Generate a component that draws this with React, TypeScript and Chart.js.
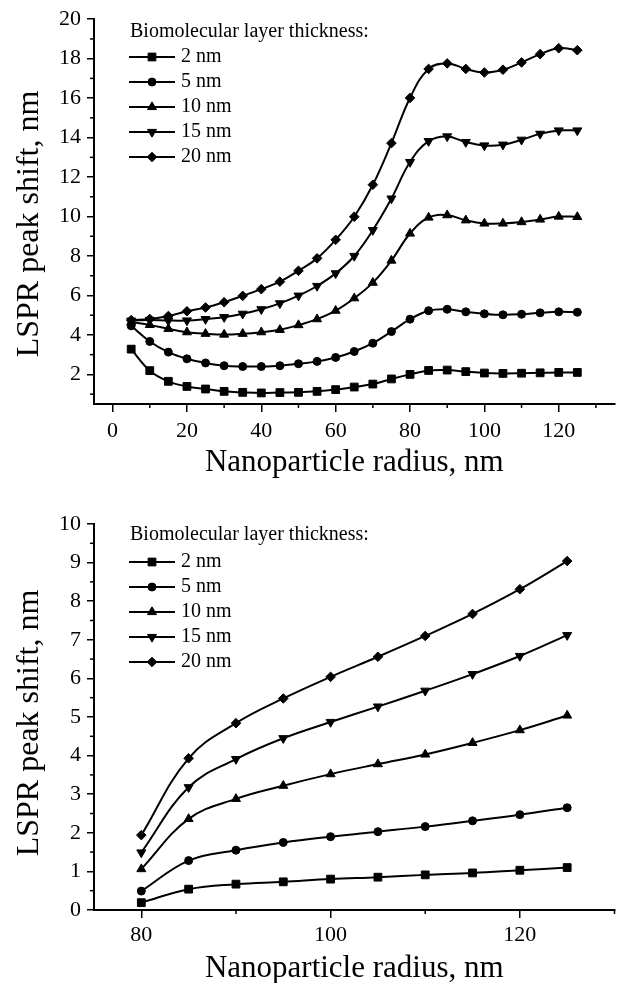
import React, { useEffect, useRef } from 'react';
import { Chart, registerables } from 'chart.js';
import { drawPoint } from 'chart.js/helpers';

Chart.register(...registerables);

const SERIES_LABELS = ['2 nm', '5 nm', '10 nm', '15 nm', '20 nm'];
const LEGEND_TITLE = 'Biomolecular layer thickness:';
const X_TITLE = 'Nanoparticle radius, nm';
const Y_TITLE = 'LSPR peak shift, nm';

// ---------- top panel ----------
const TOP_RADIUS = [5, 10, 15, 20, 25, 30, 35, 40, 45, 50, 55, 60, 65, 70, 75, 80, 85, 90, 95, 100, 105, 110, 115, 120, 125];
const TOP_2NM = [3.28, 2.19, 1.65, 1.39, 1.26, 1.14, 1.09, 1.06, 1.08, 1.09, 1.14, 1.23, 1.36, 1.51, 1.77, 2.0, 2.2, 2.22, 2.14, 2.07, 2.05, 2.06, 2.08, 2.1, 2.1];
const TOP_5NM = [4.46, 3.67, 3.13, 2.79, 2.58, 2.44, 2.4, 2.4, 2.44, 2.54, 2.66, 2.86, 3.16, 3.58, 4.17, 4.8, 5.23, 5.3, 5.17, 5.07, 5.02, 5.05, 5.12, 5.17, 5.15];
const TOP_10NM = [4.65, 4.51, 4.31, 4.14, 4.06, 4.02, 4.06, 4.14, 4.26, 4.5, 4.8, 5.23, 5.86, 6.65, 7.77, 9.14, 9.95, 10.07, 9.81, 9.65, 9.65, 9.72, 9.85, 10.0, 9.98];
const TOP_15NM = [4.72, 4.76, 4.73, 4.73, 4.8, 4.9, 5.07, 5.3, 5.6, 5.99, 6.48, 7.12, 8.0, 9.31, 10.91, 12.76, 13.82, 14.06, 13.77, 13.6, 13.64, 13.89, 14.19, 14.36, 14.36];
const TOP_20NM = [4.75, 4.81, 4.96, 5.2, 5.39, 5.66, 5.98, 6.32, 6.7, 7.25, 7.88, 8.82, 9.99, 11.61, 13.72, 16.01, 17.48, 17.76, 17.48, 17.3, 17.44, 17.81, 18.23, 18.53, 18.43];
const TOP_X_TICKS = [0, 20, 40, 60, 80, 100, 120];
const TOP_X_MINOR = [10, 30, 50, 70, 90, 110, 130];
const TOP_Y_TICKS = [2, 4, 6, 8, 10, 12, 14, 16, 18, 20];
const TOP_Y_MINOR = [1, 3, 5, 7, 9, 11, 13, 15, 17, 19];

// ---------- bottom panel ----------
const BOTTOM_RADIUS = [80, 85, 90, 95, 100, 105, 110, 115, 120, 125];
const BOTTOM_2NM = [0.19, 0.54, 0.67, 0.73, 0.8, 0.85, 0.91, 0.96, 1.03, 1.1];
const BOTTOM_5NM = [0.49, 1.28, 1.55, 1.75, 1.9, 2.03, 2.16, 2.31, 2.47, 2.65];
const BOTTOM_10NM = [1.06, 2.36, 2.88, 3.22, 3.52, 3.78, 4.03, 4.33, 4.66, 5.04];
const BOTTOM_15NM = [1.49, 3.18, 3.91, 4.45, 4.87, 5.27, 5.68, 6.11, 6.58, 7.12];
const BOTTOM_20NM = [1.94, 3.93, 4.84, 5.48, 6.04, 6.56, 7.1, 7.67, 8.31, 9.04];
const BOTTOM_X_TICKS = [80, 100, 120];
const BOTTOM_X_MINOR = [90, 110, 130];
const BOTTOM_Y_TICKS = [0, 1, 2, 3, 4, 5, 6, 7, 8, 9, 10];
const BOTTOM_Y_MINOR = [0.5, 1.5, 2.5, 3.5, 4.5, 5.5, 6.5, 7.5, 8.5, 9.5];

const FONT = '"Liberation Serif", "Times New Roman", serif';

const MARKERS = [
  { pointStyle: 'rect', rotation: 0, radius: 5.5 },
  { pointStyle: 'circle', rotation: 0, radius: 4 },
  { pointStyle: 'triangle', rotation: 0, radius: 5.2 },
  { pointStyle: 'triangle', rotation: 180, radius: 5.2 },
  { pointStyle: 'rectRot', rotation: 0, radius: 4.8 },
];

const decorPlugin = {
  id: 'decor',
  afterDraw(chart: any, _args: any, opts: any) {
    const ctx = chart.ctx;
    const { left, right, bottom } = chart.chartArea;
    const xs = chart.scales.x;
    const ys = chart.scales.y;
    ctx.save();
    ctx.strokeStyle = '#000';
    ctx.fillStyle = '#000';
    ctx.lineWidth = 1.5;
    // minor ticks
    for (const v of opts.xMinor) {
      const px = xs.getPixelForValue(v);
      ctx.beginPath();
      ctx.moveTo(px, bottom);
      ctx.lineTo(px, bottom + opts.minorLen);
      ctx.stroke();
    }
    for (const v of opts.yMinor) {
      const py = ys.getPixelForValue(v);
      ctx.beginPath();
      ctx.moveTo(left, py);
      ctx.lineTo(left - opts.minorLen, py);
      ctx.stroke();
    }
    // axis titles
    ctx.textAlign = 'center';
    ctx.textBaseline = 'alphabetic';
    ctx.font = `${opts.xTitleSize}px ${FONT}`;
    ctx.fillText(opts.xTitle, (left + right) / 2, opts.xTitleBaseline);
    ctx.font = `${opts.yTitleSize}px ${FONT}`;
    ctx.save();
    ctx.translate(opts.yTitleBaselineX, opts.yTitleCenterY);
    ctx.rotate(-Math.PI / 2);
    ctx.fillText(opts.yTitle, 0, 0);
    ctx.restore();
    // legend
    ctx.font = `${opts.legendSize}px ${FONT}`;
    ctx.textAlign = 'left';
    ctx.textBaseline = 'middle';
    ctx.fillText(opts.legendTitle, opts.legendX, opts.legendHeaderY);
    chart.data.datasets.forEach((ds: any, i: number) => {
      const y = opts.legendFirstY + i * opts.legendStep;
      ctx.lineWidth = 2;
      ctx.beginPath();
      ctx.moveTo(opts.legendX - 1, y);
      ctx.lineTo(opts.legendX + 45, y);
      ctx.stroke();
      const m = MARKERS[i];
      ctx.lineWidth = 1;
      drawPoint(ctx, { pointStyle: m.pointStyle, rotation: m.rotation, radius: m.radius, borderWidth: 1 }, opts.legendX + 22, y);
      ctx.fillText(ds.label, opts.legendX + 51, y);
    });
    ctx.restore();
  },
};

function makeDatasets(xs: number[], series: number[][]) {
  return series.map((vals, i) => ({
    label: SERIES_LABELS[i],
    data: xs.map((x, j) => ({ x, y: vals[j] })),
    borderColor: '#000',
    backgroundColor: '#000',
    borderWidth: 2,
    pointStyle: MARKERS[i].pointStyle,
    pointRotation: MARKERS[i].rotation,
    pointRadius: MARKERS[i].radius,
    pointBorderWidth: 1,
    pointBorderColor: '#000',
    pointBackgroundColor: '#000',
    tension: 0.4,
    fill: false,
  }));
}

type PanelProps = {
  width: number;
  height: number;
  xs: number[];
  series: number[][];
  xMin: number;
  xMax: number;
  yMin: number;
  yMax: number;
  xTicks: number[];
  yTicks: number[];
  xMinor: number[];
  yMinor: number[];
  padTop: number;
  padRight: number;
  xAxisHeight: number;
  xLabelPad: number;
  xTitleBaseline: number;
  yTitleCenterY: number;
  legendHeaderY: number;
  legendFirstY: number;
};

function Panel(p: PanelProps) {
  const ref = useRef<HTMLCanvasElement | null>(null);
  useEffect(() => {
    if (!ref.current) return;
    const chart = new Chart(ref.current, {
      type: 'line',
      data: { datasets: makeDatasets(p.xs, p.series) as any },
      options: {
        responsive: false,
        animation: false,
        events: [],
        layout: { padding: { left: 0, right: p.padRight, top: p.padTop, bottom: 0 } },
        plugins: {
          legend: { display: false },
          tooltip: { enabled: false },
          decor: {
            xMinor: p.xMinor,
            yMinor: p.yMinor,
            minorLen: 4,
            xTitleSize: 31,
            yTitleSize: 32,
            xTitle: X_TITLE,
            yTitle: Y_TITLE,
            xTitleBaseline: p.xTitleBaseline,
            yTitleBaselineX: 38,
            yTitleCenterY: p.yTitleCenterY,
            legendSize: 20,
            legendTitle: LEGEND_TITLE,
            legendX: 130,
            legendHeaderY: p.legendHeaderY,
            legendFirstY: p.legendFirstY,
            legendStep: 25,
          },
        } as any,
        scales: {
          x: {
            type: 'linear',
            min: p.xMin,
            max: p.xMax,
            afterBuildTicks: (scale: any) => {
              scale.ticks = p.xTicks.map((v) => ({ value: v }));
            },
            afterFit: (scale: any) => {
              scale.height = p.xAxisHeight;
            },
            grid: { display: true, drawOnChartArea: false, drawTicks: true, tickLength: 8, color: '#000', lineWidth: 1.5 },
            border: { display: true, color: '#000', width: 2 },
            ticks: { color: '#000', font: { family: FONT, size: 22 }, padding: p.xLabelPad, maxRotation: 0, autoSkip: false, callback: (v: any) => String(v) },
          },
          y: {
            type: 'linear',
            min: p.yMin,
            max: p.yMax,
            afterBuildTicks: (scale: any) => {
              scale.ticks = p.yTicks.map((v) => ({ value: v }));
            },
            afterFit: (scale: any) => {
              scale.width = 94;
            },
            grid: { display: true, drawOnChartArea: false, drawTicks: true, tickLength: 7, color: '#000', lineWidth: 1.5 },
            border: { display: true, color: '#000', width: 2 },
            ticks: { color: '#000', font: { family: FONT, size: 22 }, padding: 6, autoSkip: false, callback: (v: any) => String(v) },
          },
        },
      },
      plugins: [decorPlugin as any],
    });
    return () => chart.destroy();
  }, []);
  return <canvas ref={ref} width={p.width} height={p.height} style={{ display: 'block', width: p.width, height: p.height }} />;
}

export default function App() {
  return (
    <div style={{ position: 'absolute', left: 0, top: 0, width: 621, height: 983, background: '#fff' }}>
      <Panel
        width={621}
        height={490}
        xs={TOP_RADIUS}
        series={[TOP_2NM, TOP_5NM, TOP_10NM, TOP_15NM, TOP_20NM]}
        xMin={-5}
        xMax={135}
        yMin={0.5}
        yMax={20}
        xTicks={TOP_X_TICKS}
        yTicks={TOP_Y_TICKS}
        xMinor={TOP_X_MINOR}
        yMinor={TOP_Y_MINOR}
        padTop={18}
        padRight={2}
        xAxisHeight={86}
        xLabelPad={6}
        xTitleBaseline={471}
        yTitleCenterY={224}
        legendHeaderY={32}
        legendFirstY={57}
      />
      <Panel
        width={621}
        height={493}
        xs={BOTTOM_RADIUS}
        series={[BOTTOM_2NM, BOTTOM_5NM, BOTTOM_10NM, BOTTOM_15NM, BOTTOM_20NM]}
        xMin={75}
        xMax={130}
        yMin={0}
        yMax={10}
        xTicks={BOTTOM_X_TICKS}
        yTicks={BOTTOM_Y_TICKS}
        xMinor={BOTTOM_X_MINOR}
        yMinor={BOTTOM_Y_MINOR}
        padTop={34}
        padRight={1}
        xAxisHeight={73}
        xLabelPad={4}
        xTitleBaseline={487}
        yTitleCenterY={233}
        legendHeaderY={45}
        legendFirstY={72}
      />
    </div>
  );
}
